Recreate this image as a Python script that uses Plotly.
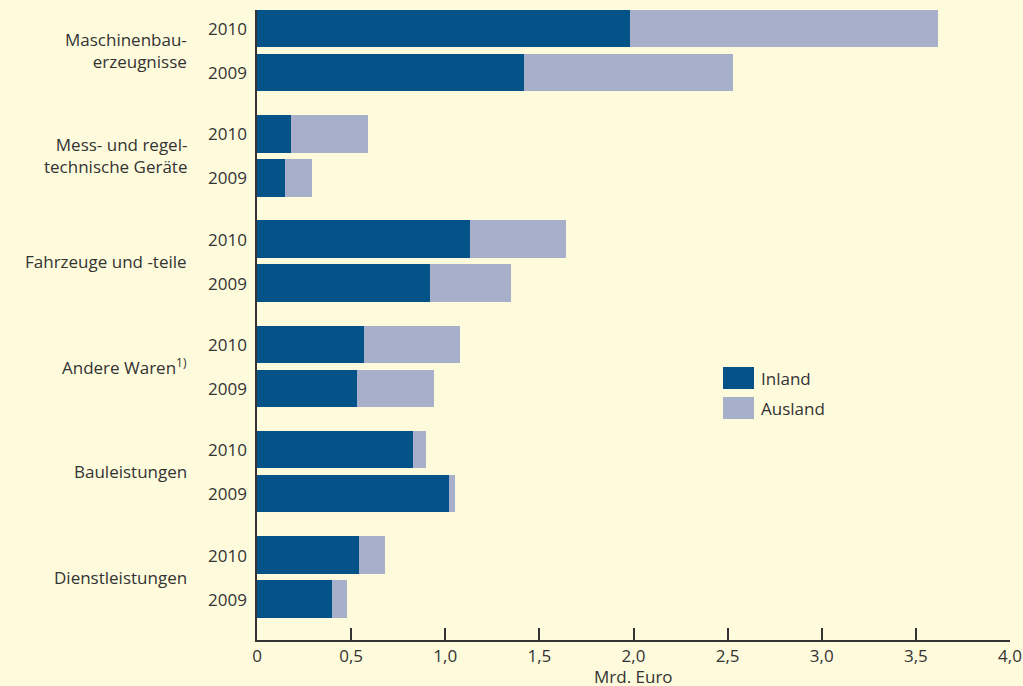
import plotly.graph_objects as go

categories = ["Maschinenbau-<br>erzeugnisse", "Mess- und regel-<br>technische Geräte", "Fahrzeuge und -teile",
              "Andere Waren<sup>1)</sup>", "Bauleistungen", "Dienstleistungen"]
years = ["2010", "2009"]
inland_2010 = [1.98, 0.18, 1.13, 0.57, 0.83, 0.54]
ausland_2010 = [1.64, 0.41, 0.51, 0.51, 0.07, 0.14]
inland_2009 = [1.42, 0.15, 0.92, 0.53, 1.02, 0.40]
ausland_2009 = [1.11, 0.14, 0.43, 0.41, 0.03, 0.08]
x_ticks = [0, 0.5, 1.0, 1.5, 2.0, 2.5, 3.0, 3.5, 4.0]
x_ticktext = ["0", "0,5", "1,0", "1,5", "2,0", "2,5", "3,0", "3,5", "4,0"]
series_names = ["Inland", "Ausland"]
x_title = "Mrd. Euro"

DARK = "#035389"
LIGHT = "#A8AFCB"
BG = "#FEFBDC"
TXT = "#333333"
FONT = "Open Sans, Liberation Sans, Arial"
FS = 17

GROUP = 105.3
OFF = 44
first = 18.5

y_pos, inl, aus, ylab = [], [], [], []
for i in range(len(categories)):
    y_pos += [first + GROUP * i, first + GROUP * i + OFF]
    inl += [inland_2010[i], inland_2009[i]]
    aus += [ausland_2010[i], ausland_2009[i]]
    ylab += years

fig = go.Figure()
fig.add_trace(go.Bar(y=y_pos, x=inl, orientation="h", marker=dict(color=DARK, line=dict(width=0)),
                     width=37.5, name=series_names[0], showlegend=False))
fig.add_trace(go.Bar(y=y_pos, x=aus, orientation="h", marker=dict(color=LIGHT, line=dict(width=0)),
                     width=37.5, name=series_names[1], showlegend=False))

annotations = []
for yv, lab in zip(y_pos, ylab):
    annotations.append(dict(x=0, xref="paper", y=yv, yref="y", text=lab, showarrow=False,
                            xanchor="right", xshift=-8, font=dict(size=FS, color=TXT, family=FONT)))
for i, cat in enumerate(categories):
    annotations.append(dict(x=0, xref="paper", y=first + GROUP * i + OFF / 2, yref="y", text=cat,
                            showarrow=False, xanchor="right", align="right", xshift=-68,
                            font=dict(size=FS, color=TXT, family=FONT)))

# axis title
annotations.append(dict(x=0.5, xref="paper", y=0, yref="paper", text=x_title, showarrow=False,
                        xanchor="center", yanchor="top", yshift=-23,
                        font=dict(size=FS, color=TXT, family=FONT)))

# legend drawn manually
shapes = []
leg_colors = [DARK, LIGHT]
PX = 753 / 4.0
for k, (nm, col) in enumerate(zip(series_names, leg_colors)):
    y0 = 367 + 30 * k
    shapes.append(dict(type="rect", xref="x", yref="y", x0=(723 - 257) / PX, x1=(754 - 257) / PX,
                       y0=y0 - 10, y1=y0 + 12, fillcolor=col, line=dict(width=0)))
    annotations.append(dict(x=(759 - 257) / PX, xref="x", y=y0 + 1, yref="y", text=nm,
                            showarrow=False, xanchor="left", font=dict(size=FS, color=TXT, family=FONT)))

fig.update_layout(
    barmode="stack",
    width=1023, height=686,
    margin=dict(l=257, r=13, t=10, b=46),
    paper_bgcolor=BG, plot_bgcolor=BG,
    font=dict(family=FONT, color=TXT, size=FS),
    annotations=annotations,
    shapes=shapes,
    bargap=0,
)
fig.update_xaxes(range=[0, 4.0], tickvals=x_ticks, ticktext=x_ticktext, ticks="inside", ticklen=12,
                 tickwidth=1.5, tickcolor=TXT, showline=True, linecolor=TXT, linewidth=2,
                 showgrid=False, zeroline=False, tickfont=dict(size=FS, color=TXT), automargin=False)
fig.update_yaxes(range=[630, 0], showline=True, linecolor=TXT, linewidth=2, showgrid=False,
                 zeroline=False, showticklabels=False, ticks="", automargin=False)

fig.write_html("out.html")
